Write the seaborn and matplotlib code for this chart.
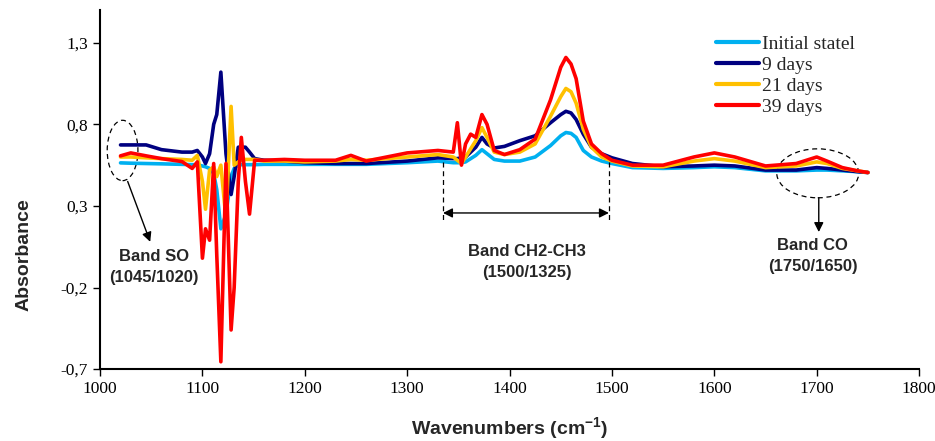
import numpy as np
import pandas as pd
import seaborn as sns
import matplotlib.pyplot as plt
from matplotlib.patches import Ellipse

wavenumber = [1020, 1030, 1045, 1060, 1080, 1090, 1095, 1100, 1103, 1107,
              1111, 1114, 1118, 1123, 1128, 1131, 1135, 1138, 1142, 1146,
              1151, 1160, 1180, 1200, 1230, 1245, 1260, 1300, 1330, 1345,
              1349, 1353, 1357, 1362, 1367, 1373, 1378, 1385, 1395, 1410,
              1425, 1440, 1450, 1455, 1460, 1465, 1472, 1480, 1490, 1500,
              1520, 1550, 1580, 1600, 1620, 1650, 1680, 1700, 1710, 1725,
              1740, 1750]

initial = [.564, .562, .56, .558, .555, .553, .552, .545, .54, .53,
           .50, .40, .16, .25, .48, .53, .55, .553, .553, .553,
           .553, .555, .555, .555, .555, .555, .555, .565, .575, .565,
           .565, .565, .57, .59, .61, .645, .62, .585, .575, .575,
           .60, .67, .73, .75, .745, .72, .64, .60, .575, .56,
           .535, .53, .535, .54, .535, .515, .515, .52, .52, .515,
           .51, .505]

days_9 = [.674, .674, .674, .645, .63, .63, .64, .60, .56, .62,
          .80, .86, 1.12, .62, .37, .48, .66, .66, .66, .63,
          .59, .58, .575, .565, .56, .56, .56, .575, .595, .59,
          .59, .595, .60, .63, .66, .72, .68, .655, .665, .70,
          .73, .81, .86, .88, .87, .83, .74, .66, .62, .595,
          .56, .54, .545, .55, .545, .52, .52, .535, .53, .52,
          .51, .505]

days_21 = [.60, .60, .595, .59, .585, .58, .61, .45, .28, .52,
           .54, .48, .55, .22, .91, .55, .57, .58, .585, .585,
           .585, .575, .575, .57, .575, .585, .58, .60, .615, .60,
           .58, .56, .60, .65, .70, .78, .72, .63, .615, .63,
           .68, .85, .97, 1.02, 1.0, .93, .77, .66, .60, .575,
           .545, .54, .575, .59, .575, .535, .545, .57, .56, .53,
           .515, .505]

days_39 = [.607, .625, .607, .59, .572, .53, .57, -.02, .16, .09,
           .56, .0, -.655, .56, -.46, -.20, .45, .72, .45, .25,
           .58, .58, .585, .58, .58, .61, .575, .625, .64, .63,
           .81, .55, .68, .74, .72, .86, .80, .64, .615, .645,
           .71, .95, 1.15, 1.21, 1.17, 1.08, .82, .68, .62, .58,
           .55, .55, .60, .625, .60, .545, .56, .60, .575, .535,
           .515, .505]

series_names = ['Initial statel', '9 days', '21 days', '39 days']
colors = ['#00B0F0', '#000080', '#FFC000', '#FF0000']

df = pd.concat([
    pd.DataFrame({'wavenumber': wavenumber, 'absorbance': vals, 'series': name})
    for name, vals in zip(series_names, [initial, days_9, days_21, days_39])
])

sns.set_style('ticks')
plt.rcParams['font.family'] = ['Liberation Serif', 'DejaVu Serif']
plt.rcParams['mathtext.fontset'] = 'custom'
plt.rcParams['mathtext.bf'] = 'Liberation Sans:bold'
plt.rcParams['mathtext.rm'] = 'Liberation Sans:bold'

fig = plt.figure(figsize=(9.35, 4.41), dpi=100)
ax = fig.add_axes([0.107, 0.163, 0.876, 0.814])

sns.lineplot(data=df, x='wavenumber', y='absorbance', hue='series',
             palette=dict(zip(series_names, colors)), linewidth=2.6,
             estimator=None, ax=ax)

ax.set_xlim(1000, 1800)
ax.set_ylim(-0.7, 1.5)
ax.set_xticks(range(1000, 1801, 100))
ax.set_yticks([-0.7, -0.2, 0.3, 0.8, 1.3])
ax.set_yticklabels(['-0,7', '-0,2', '0,3', '0,8', '1,3'])
ax.tick_params(labelsize=12.5, direction='out', length=5, width=1, colors='black')
for s in ['top', 'right']:
    ax.spines[s].set_visible(False)
for s in ['left', 'bottom']:
    ax.spines[s].set_linewidth(1.5)
    ax.spines[s].set_color('black')

lab = dict(family='Liberation Sans', weight='bold', size=14)
ax.set_xlabel(r'Wavenumbers (cm$^{\mathbf{-1}}$)', fontdict=lab)
ax.set_ylabel('Absorbance', fontdict=lab)
ax.xaxis.set_label_coords(0.5, -0.13)
ax.yaxis.set_label_coords(-0.082, 0.32)

leg = ax.legend(loc='upper left', bbox_to_anchor=(0.752, 0.93), frameon=False,
                fontsize=14, handlelength=2.2, handletextpad=0.15,
                labelspacing=0.17, borderpad=0, borderaxespad=0)
for h in leg.get_lines():
    h.set_linewidth(3)

# annotations
ann = dict(family='Liberation Sans', weight='bold', size=12,
           ha='center', va='center', linespacing=1.5)
dash = (0, (4, 3))
ax.add_patch(Ellipse((1022, 0.64), 30, 0.37, fill=False, ls=dash,
                     lw=0.9, color='black'))
ax.annotate('', xy=(1049, 0.08), xytext=(1027, 0.45),
            arrowprops=dict(arrowstyle='-|>', color='black', lw=1,
                            mutation_scale=14, shrinkA=0, shrinkB=0))
ax.text(1053, -0.074, 'Band SO\n(1045/1020)', **ann)

ax.plot([1335, 1335], [0.57, 0.21], ls=dash, lw=0.9, color='black')
ax.plot([1497, 1497], [0.57, 0.21], ls=dash, lw=0.9, color='black')
ax.annotate('', xy=(1335, 0.257), xytext=(1497, 0.257),
            arrowprops=dict(arrowstyle='<|-|>', color='black', lw=1,
                            mutation_scale=14, shrinkA=0, shrinkB=0))
ax.text(1417, -0.044, 'Band CH2-CH3\n(1500/1325)', **ann)

ax.add_patch(Ellipse((1701, 0.50), 80, 0.30, fill=False, ls=dash,
                     lw=0.9, color='black'))
ax.annotate('', xy=(1702, 0.14), xytext=(1702, 0.35),
            arrowprops=dict(arrowstyle='-|>', color='black', lw=1,
                            mutation_scale=14, shrinkA=0, shrinkB=0))
ax.text(1696, -0.004, 'Band CO\n(1750/1650)', **ann)

fig.savefig('out.png', dpi=100)
